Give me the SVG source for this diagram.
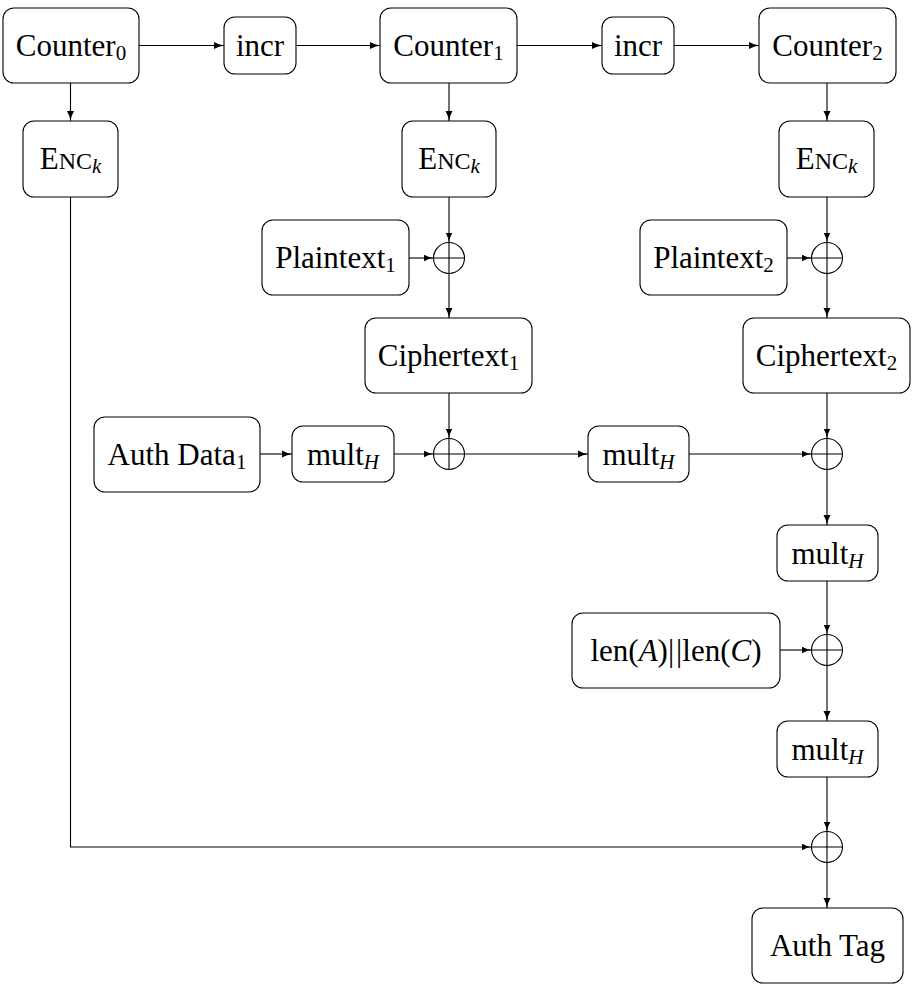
<svg xmlns="http://www.w3.org/2000/svg" width="912" height="984" viewBox="0 0 912 984" font-family="'Liberation Serif', 'Times New Roman', 'DejaVu Serif', serif">
  <defs>
    <marker id="arrow" markerUnits="userSpaceOnUse" markerWidth="12" markerHeight="9" refX="10" refY="4" orient="auto">
      <path d="M0,0.5 Q5,3.4 10,4 Q5,4.6 0,7.5 Z" fill="#000"/>
    </marker>
    <style>
      .box { fill: #fff; stroke: #000; stroke-width: 1.1; }
      .xor { fill: #fff; stroke: #000; stroke-width: 1.1; }
      .wire { fill: none; stroke: #000; stroke-width: 1.1; }
      .arr { fill: none; stroke: #000; stroke-width: 1.1; marker-end: url(#arrow); }
      text { font-size: 31px; fill: #000; text-anchor: middle; }
      .sub { font-size: 21px; }
      .sc { font-size: 24px; }
      .it { font-style: italic; }
    </style>
  </defs>

  <!-- connectors -->
  <g id="connectors">
    <!-- counter chain -->
    <line class="arr" x1="139" y1="45.5" x2="224" y2="45.5"/>
    <line class="arr" x1="296" y1="45.5" x2="380" y2="45.5"/>
    <line class="arr" x1="517" y1="45.5" x2="602" y2="45.5"/>
    <line class="arr" x1="674" y1="45.5" x2="759" y2="45.5"/>
    <!-- counters to encryption -->
    <line class="arr" x1="70.5" y1="83" x2="70.5" y2="121"/>
    <line class="arr" x1="449" y1="83" x2="449" y2="121"/>
    <line class="arr" x1="827" y1="83" x2="827" y2="121"/>
    <!-- keystream xor plaintext -->
    <line class="arr" x1="449" y1="197" x2="449" y2="242.5"/>
    <line class="arr" x1="409" y1="258" x2="433.5" y2="258"/>
    <line class="arr" x1="449" y1="273.5" x2="449" y2="318"/>
    <line class="arr" x1="827" y1="197" x2="827" y2="242.5"/>
    <line class="arr" x1="787" y1="258" x2="811.5" y2="258"/>
    <line class="arr" x1="827" y1="273.5" x2="827" y2="318"/>
    <!-- GHASH chain -->
    <line class="arr" x1="260" y1="454" x2="292" y2="454"/>
    <line class="arr" x1="394" y1="454" x2="433.5" y2="454"/>
    <line class="arr" x1="449" y1="393" x2="449" y2="438.5"/>
    <line class="arr" x1="464.5" y1="454" x2="588" y2="454"/>
    <line class="arr" x1="689" y1="454" x2="811.5" y2="454"/>
    <line class="arr" x1="827" y1="393" x2="827" y2="438.5"/>
    <line class="arr" x1="827" y1="469.5" x2="827" y2="525"/>
    <line class="arr" x1="827" y1="581" x2="827" y2="634.5"/>
    <line class="arr" x1="780" y1="650" x2="811.5" y2="650"/>
    <line class="arr" x1="827" y1="665.5" x2="827" y2="721"/>
    <line class="arr" x1="827" y1="777" x2="827" y2="831.5"/>
    <!-- encrypted counter 0 into the tag -->
    <polyline class="arr" points="70.5,197 70.5,847 811.5,847"/>
    <line class="arr" x1="827" y1="862.5" x2="827" y2="908"/>
  </g>

  <!-- counters -->
  <g id="counter0">
    <rect class="box" x="3" y="8" width="136" height="75" rx="11"/>
    <text x="71" y="55.5">Counter<tspan class="sub" dy="4.5">0</tspan></text>
  </g>
  <g id="incr1">
    <rect class="box" x="224" y="17" width="72" height="57" rx="11"/>
    <text x="260" y="55.5">incr</text>
  </g>
  <g id="counter1">
    <rect class="box" x="380" y="8" width="137" height="75" rx="11"/>
    <text x="448.5" y="55.5">Counter<tspan class="sub" dy="4.5">1</tspan></text>
  </g>
  <g id="incr2">
    <rect class="box" x="602" y="17" width="72" height="57" rx="11"/>
    <text x="638" y="55.5">incr</text>
  </g>
  <g id="counter2">
    <rect class="box" x="759" y="8" width="137" height="75" rx="11"/>
    <text x="827.5" y="55.5">Counter<tspan class="sub" dy="4.5">2</tspan></text>
  </g>

  <!-- block cipher -->
  <g id="enc0">
    <rect class="box" x="23" y="121" width="95" height="76" rx="11"/>
    <text x="70.5" y="168.5">E<tspan class="sc">NC</tspan><tspan class="sub it" dy="4.5">k</tspan></text>
  </g>
  <g id="enc1">
    <rect class="box" x="402" y="121" width="94" height="76" rx="11"/>
    <text x="449" y="168.5">E<tspan class="sc">NC</tspan><tspan class="sub it" dy="4.5">k</tspan></text>
  </g>
  <g id="enc2">
    <rect class="box" x="779" y="121" width="95" height="76" rx="11"/>
    <text x="826.5" y="168.5">E<tspan class="sc">NC</tspan><tspan class="sub it" dy="4.5">k</tspan></text>
  </g>

  <!-- plaintext blocks -->
  <g id="plaintext1">
    <rect class="box" x="262" y="220" width="147" height="75" rx="11"/>
    <text x="335.5" y="267.5">Plaintext<tspan class="sub" dy="4.5">1</tspan></text>
  </g>
  <g id="plaintext2">
    <rect class="box" x="640" y="220" width="147" height="75" rx="11"/>
    <text x="713.5" y="267.5">Plaintext<tspan class="sub" dy="4.5">2</tspan></text>
  </g>

  <!-- xor junctions -->
  <g id="xor1">
    <circle class="xor" cx="449" cy="258" r="15.5"/>
    <path class="wire" d="M433.5,258 H464.5 M449,242.5 V273.5"/>
  </g>
  <g id="xor2">
    <circle class="xor" cx="827" cy="258" r="15.5"/>
    <path class="wire" d="M811.5,258 H842.5 M827,242.5 V273.5"/>
  </g>

  <!-- ciphertext blocks -->
  <g id="ciphertext1">
    <rect class="box" x="365" y="318" width="167" height="75" rx="11"/>
    <text x="448.5" y="365.5">Ciphertext<tspan class="sub" dy="4.5">1</tspan></text>
  </g>
  <g id="ciphertext2">
    <rect class="box" x="743" y="318" width="167" height="75" rx="11"/>
    <text x="826.5" y="365.5">Ciphertext<tspan class="sub" dy="4.5">2</tspan></text>
  </g>

  <!-- authentication chain -->
  <g id="authdata1">
    <rect class="box" x="94" y="417" width="166" height="75" rx="11"/>
    <text x="177" y="464.5">Auth Data<tspan class="sub" dy="4.5">1</tspan></text>
  </g>
  <g id="mult1">
    <rect class="box" x="292" y="426" width="102" height="56" rx="11"/>
    <text x="343" y="464.5">mult<tspan class="sub it" dy="4.5">H</tspan></text>
  </g>
  <g id="xor3">
    <circle class="xor" cx="449" cy="454" r="15.5"/>
    <path class="wire" d="M433.5,454 H464.5 M449,438.5 V469.5"/>
  </g>
  <g id="mult2">
    <rect class="box" x="588" y="426" width="101" height="56" rx="11"/>
    <text x="638.5" y="464.5">mult<tspan class="sub it" dy="4.5">H</tspan></text>
  </g>
  <g id="xor4">
    <circle class="xor" cx="827" cy="454" r="15.5"/>
    <path class="wire" d="M811.5,454 H842.5 M827,438.5 V469.5"/>
  </g>
  <g id="mult3">
    <rect class="box" x="777" y="525" width="101" height="56" rx="11"/>
    <text x="827.5" y="563.5">mult<tspan class="sub it" dy="4.5">H</tspan></text>
  </g>
  <g id="lengths">
    <rect class="box" x="572" y="613" width="208" height="75" rx="11"/>
    <text x="676" y="660.5">len(<tspan class="it">A</tspan>)|<tspan dx="2">|</tspan>len(<tspan class="it">C</tspan>)</text>
  </g>
  <g id="xor5">
    <circle class="xor" cx="827" cy="650" r="15.5"/>
    <path class="wire" d="M811.5,650 H842.5 M827,634.5 V665.5"/>
  </g>
  <g id="mult4">
    <rect class="box" x="777" y="721" width="101" height="56" rx="11"/>
    <text x="827.5" y="759.5">mult<tspan class="sub it" dy="4.5">H</tspan></text>
  </g>
  <g id="xor6">
    <circle class="xor" cx="827" cy="847" r="15.5"/>
    <path class="wire" d="M811.5,847 H842.5 M827,831.5 V862.5"/>
  </g>
  <g id="authtag">
    <rect class="box" x="752" y="908" width="151" height="75" rx="11"/>
    <text x="827.5" y="955.5">Auth Tag</text>
  </g>
</svg>
